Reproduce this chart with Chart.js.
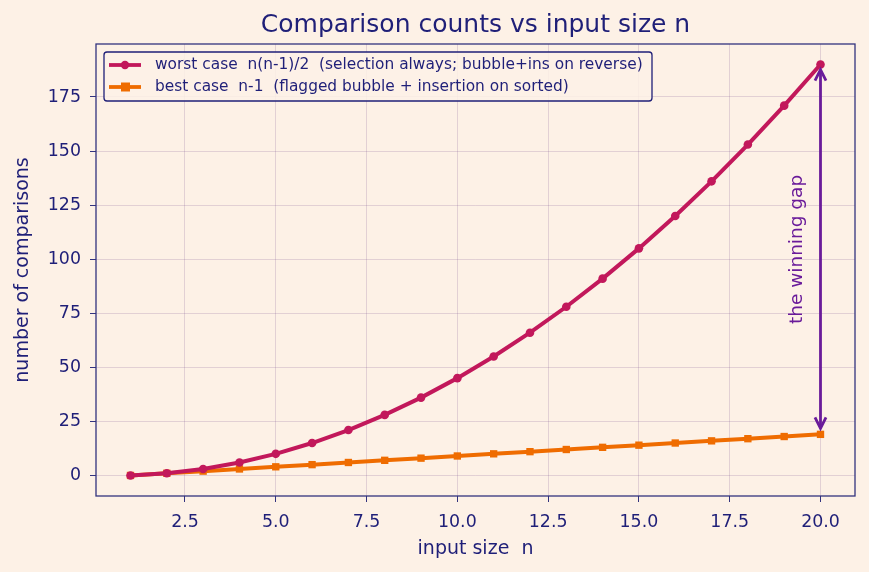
<!DOCTYPE html>
<html><head><meta charset="utf-8">
<script src="https://cdn.jsdelivr.net/npm/chart.js@4/dist/chart.umd.min.js"></script>
<style>html,body{margin:0;padding:0;background:#fdf1e6;}#wrap{width:869px;height:572px;}</style>
</head><body><div id="wrap"><canvas id="c" width="869" height="572"></canvas></div>
<script>
const nValues = [1,2,3,4,5,6,7,8,9,10,11,12,13,14,15,16,17,18,19,20];
const worstCase = [0,1,3,6,10,15,21,28,36,45,55,66,78,91,105,120,136,153,171,190];
const bestCase = [0,1,2,3,4,5,6,7,8,9,10,11,12,13,14,15,16,17,18,19];
const xTicks = [2.5,5,7.5,10,12.5,15,17.5,20];
const yTicks = [0,25,50,75,100,125,150,175];
const seriesLabels = ['worst case  n(n-1)/2  (selection always; bubble+ins on reverse)','best case  n-1  (flagged bubble + insertion on sorted)'];
const titleText = 'Comparison counts vs input size n';
const annotationText = 'the winning gap';

const NAVY = '#1f1f78';
const BG = '#fdf1e6';
const GRID = 'rgba(120,80,140,0.2)';
const C1 = '#c2185b', C2 = '#ef6c00', PURPLE = '#6a1b9a';
const FONT = 'DejaVu Sans';

const extras = {
  id: 'extras',
  beforeDraw(chart) {
    const ctx = chart.ctx;
    ctx.save(); ctx.fillStyle = BG; ctx.fillRect(0,0,chart.width,chart.height); ctx.restore();
  },
  afterDraw(chart) {
    const ctx = chart.ctx, a = chart.chartArea;
    const xs = chart.scales.x, ys = chart.scales.y;
    ctx.save();
    ctx.strokeStyle = '#33337f'; ctx.lineWidth = 1.3;
    ctx.strokeRect(a.left, a.top, a.right - a.left, a.bottom - a.top);
    ctx.fillStyle = NAVY; ctx.font = '25px "' + FONT + '"'; ctx.textAlign = 'center'; ctx.textBaseline = 'middle';
    ctx.fillText(titleText, (a.left + a.right) / 2, 25);
    // arrow
    const ax = xs.getPixelForValue(nValues[nValues.length-1]);
    const yTop = ys.getPixelForValue(worstCase[worstCase.length-1]) + 5;
    const yBot = ys.getPixelForValue(bestCase[bestCase.length-1]) - 6;
    ctx.strokeStyle = PURPLE; ctx.fillStyle = PURPLE; ctx.lineWidth = 2.8;
    ctx.beginPath(); ctx.moveTo(ax, yTop + 2); ctx.lineTo(ax, yBot - 2); ctx.stroke();
    ctx.lineWidth = 2.8; ctx.lineJoin = 'miter';
    ctx.beginPath(); ctx.moveTo(ax - 5.5, yTop + 11); ctx.lineTo(ax, yTop); ctx.lineTo(ax + 5.5, yTop + 11); ctx.stroke();
    ctx.beginPath(); ctx.moveTo(ax - 5.5, yBot - 11); ctx.lineTo(ax, yBot); ctx.lineTo(ax + 5.5, yBot - 11); ctx.stroke();
    ctx.save();
    ctx.translate(xs.getPixelForValue(19.37), ys.getPixelForValue(104.5));
    ctx.rotate(-Math.PI/2);
    ctx.font = '18.5px "' + FONT + '"'; ctx.textAlign = 'center'; ctx.textBaseline = 'middle';
    ctx.fillText(annotationText, 0, 0);
    ctx.restore();
    // legend
    const lx = a.left + 8, ly = a.top + 8, lw = 548, lh = 49;
    ctx.fillStyle = 'rgba(253,241,230,0.85)';
    ctx.strokeStyle = NAVY; ctx.lineWidth = 1.3;
    ctx.beginPath(); ctx.roundRect(lx, ly, lw, lh, 3); ctx.fill(); ctx.stroke();
    const rows = [[C1, 'circle', seriesLabels[0]], [C2, 'rect', seriesLabels[1]]];
    rows.forEach((r, i) => {
      const yy = ly + 13 + i * 22;
      ctx.strokeStyle = r[0]; ctx.fillStyle = r[0]; ctx.lineWidth = 3.8;
      ctx.beginPath(); ctx.moveTo(lx + 5, yy); ctx.lineTo(lx + 37, yy); ctx.stroke();
      ctx.beginPath();
      if (r[1] === 'circle') { ctx.arc(lx + 21, yy, 4.2, 0, Math.PI*2); } else { ctx.rect(lx + 17, yy - 4.5, 9, 9); }
      ctx.fill();
      ctx.fillStyle = NAVY; ctx.font = '15.4px "' + FONT + '"'; ctx.textAlign = 'left'; ctx.textBaseline = 'middle';
      ctx.fillText(r[2], lx + 51, yy);
    });
    ctx.restore();
  }
};

new Chart(document.getElementById('c'), {
  type: 'line',
  data: {
    datasets: [
      { label: seriesLabels[0], data: nValues.map((n,i)=>({x:n,y:worstCase[i]})), borderColor: C1, backgroundColor: C1,
        borderWidth: 4, pointStyle: 'circle', pointRadius: 4.3, pointBorderWidth: 0, tension: 0 },
      { label: seriesLabels[1], data: nValues.map((n,i)=>({x:n,y:bestCase[i]})), borderColor: C2, backgroundColor: C2,
        borderWidth: 4, pointStyle: 'rect', pointRadius: 5.2, pointBorderWidth: 0, tension: 0 }
    ]
  },
  options: {
    responsive: false, animation: false,
    layout: { padding: { top: 44, right: 14, left: 0, bottom: 0 } },
    plugins: { legend: { display: false }, title: { display: false }, tooltip: { enabled: false } },
    scales: {
      x: {
        type: 'linear', min: 0.05, max: 20.95,
        afterBuildTicks: s => { s.ticks = xTicks.map(v => ({ value: v })); },
        afterFit: s => { s.height = 76; },
        ticks: { color: NAVY, font: { family: FONT, size: 17.4 }, padding: 10, maxRotation: 0, callback: v => Number(v).toFixed(1) },
        grid: { color: GRID, lineWidth: 1, tickLength: 6, tickColor: '#33337f', drawTicks: true },
        border: { display: false },
        title: { display: true, text: 'input size  n', color: NAVY, font: { family: FONT, size: 19 }, padding: { top: 0, bottom: 12 } }
      },
      y: {
        type: 'linear', min: -9.5, max: 199.5,
        afterBuildTicks: s => { s.ticks = yTicks.map(v => ({ value: v })); },
        afterFit: s => { s.width = 96; },
        ticks: { color: NAVY, font: { family: FONT, size: 17.4 }, padding: 9 },
        grid: { color: GRID, lineWidth: 1, tickLength: 6, tickColor: '#33337f', drawTicks: true },
        border: { display: false },
        title: { display: true, text: 'number of comparisons', color: NAVY, font: { family: FONT, size: 19 }, padding: { top: 12, bottom: 0 } }
      }
    }
  },
  plugins: [extras]
});
</script></body></html>
